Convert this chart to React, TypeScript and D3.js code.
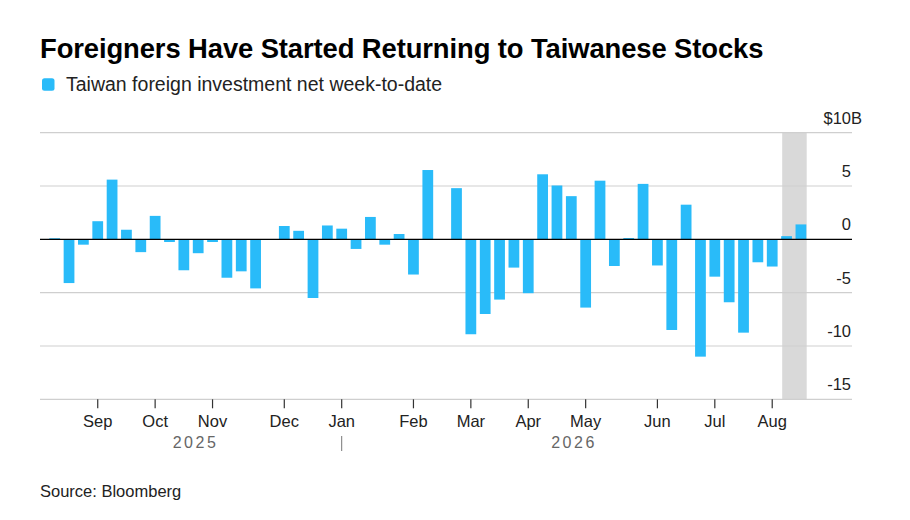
import React from 'react';
import * as d3 from 'd3';

// weekly observations (Saturdays)
const weeks = [
  '2025-08-16', '2025-08-23', '2025-08-30', '2025-09-06', '2025-09-13', '2025-09-20', '2025-09-27',
  '2025-10-04', '2025-10-11', '2025-10-18', '2025-10-25', '2025-11-01', '2025-11-08', '2025-11-15',
  '2025-11-22', '2025-11-29', '2025-12-06', '2025-12-13', '2025-12-20', '2025-12-27', '2026-01-03',
  '2026-01-10', '2026-01-17', '2026-01-24', '2026-01-31', '2026-02-07', '2026-02-14', '2026-02-21',
  '2026-02-28', '2026-03-07', '2026-03-14', '2026-03-21', '2026-03-28', '2026-04-04', '2026-04-11',
  '2026-04-18', '2026-04-25', '2026-05-02', '2026-05-09', '2026-05-16', '2026-05-23', '2026-05-30',
  '2026-06-06', '2026-06-13', '2026-06-20', '2026-06-27', '2026-07-04', '2026-07-11', '2026-07-18',
  '2026-07-25', '2026-08-01', '2026-08-08', '2026-08-15',
];

// net foreign investment, $B
const netFlows: (number | null)[] = [
  0.1, -4.1, -0.5, 1.7, 5.6, 0.9, -1.2,
  2.2, -0.25, -2.9, -1.3, -0.25, -3.6, -3.0,
  -4.6, null, 1.25, 0.8, -5.5, 1.3, 1.0,
  -0.9, 2.1, -0.5, 0.5, -3.3, 6.5, null,
  4.8, -8.9, -7.0, -5.65, -2.65, -5.05, 6.1,
  5.05, 4.05, -6.4, 5.5, -2.5, 0.12, 5.2,
  -2.45, -8.5, 3.25, -11.0, -3.5, -5.9, -8.75,
  -2.15, -2.55, 0.3, 1.4,
];

const yTicks = [10, 5, 0, -5, -10, -15];
const shadedWeeks = ['2026-08-08', '2026-08-15'];
const yearLabels = ['2025', '2026'];

const W = 910;
const H = 520;
const FONT = '"Liberation Sans", Arial, Helvetica, sans-serif';
const BLUE = '#29bbf9';

const gridLeft = 40;
const gridRight = 852;
const bandLeft = 49.3;
const bandRight = 806.3;
const plotTop = 132.7;
const plotBottom = 399.3;

export default function App() {
  const x = d3.scaleBand<string>()
    .domain(weeks)
    .range([bandLeft, bandRight])
    .paddingInner(0.25)
    .paddingOuter(0);

  const y = d3.scaleLinear().domain([-15, 10]).range([plotBottom, plotTop]);

  const parse = d3.timeParse('%Y-%m-%d');
  const fmtMonth = d3.timeFormat('%b');
  // a month tick at the first week of each month
  const monthTicks = weeks.filter((w, i) => i > 0 && parse(w)!.getDate() <= 7);

  const center = (w: string) => (x(w) ?? 0) + x.bandwidth() / 2;
  const janX = center(monthTicks.find(w => w.endsWith('-01-03'))!);
  const shadeX0 = (x(shadedWeeks[0]) ?? 0) + 1;
  const shadeX1 = (x(shadedWeeks[shadedWeeks.length - 1]) ?? 0) + x.bandwidth() + 0.4;

  return (
    <svg
      width={W}
      height={H}
      style={{ position: 'absolute', left: 0, top: 0, background: '#fff', fontFamily: FONT }}
    >
      <text x={40} y={58} fontSize={27.4} fontWeight={700} fill="#000" letterSpacing={-0.1}>
        Foreigners Have Started Returning to Taiwanese Stocks
      </text>

      {/* legend */}
      <rect x={42} y={78.3} width={12.5} height={12.5} rx={2.5} fill={BLUE} />
      <text x={66} y={91} fontSize={19.5} fill="#222">
        Taiwan foreign investment net week-to-date
      </text>

      {/* shaded period */}
      <rect x={shadeX0} y={plotTop} width={shadeX1 - shadeX0} height={plotBottom - plotTop} fill="#d9d9d9" />

      {/* gridlines + y labels */}
      {yTicks.map(t => (
        <g key={t}>
          {t !== 0 && (
            <line x1={gridLeft} x2={gridRight} y1={y(t)} y2={y(t)} stroke="#cfcfcf" strokeWidth={1.2} />
          )}
          {t === 10 ? (
            <>
              <text x={851} y={y(t) - 9} fontSize={16.5} fill="#222" textAnchor="end">$10</text>
              <text x={851} y={y(t) - 9} fontSize={16.5} fill="#222">B</text>
            </>
          ) : (
            <text x={851} y={y(t) - 9} fontSize={16.5} fill="#222" textAnchor="end">{t}</text>
          )}
        </g>
      ))}

      {/* bars */}
      {weeks.map((w, i) => {
        const v = netFlows[i];
        if (v == null) return null;
        const y0 = y(Math.max(0, v));
        const y1 = y(Math.min(0, v));
        return (
          <rect key={w} x={x(w)} y={y0} width={x.bandwidth()} height={Math.max(0.5, y1 - y0)} fill={BLUE} />
        );
      })}

      {/* zero line */}
      <line x1={gridLeft} x2={gridRight} y1={y(0)} y2={y(0)} stroke="#000" strokeWidth={1.2} />

      {/* x axis */}
      {monthTicks.map(w => (
        <g key={w} transform={`translate(${center(w)},0)`}>
          <line y1={plotBottom} y2={plotBottom + 9} stroke="#333" strokeWidth={1.2} />
          <text y={427} fontSize={16.5} fill="#222" textAnchor="middle">{fmtMonth(parse(w)!)}</text>
        </g>
      ))}

      {/* years */}
      <text x={(bandLeft + janX) / 2} y={448} fontSize={16} fill="#666" textAnchor="middle" letterSpacing={2.5}>
        {yearLabels[0]}
      </text>
      <line x1={janX} x2={janX} y1={436} y2={451} stroke="#777" strokeWidth={1} />
      <text x={(janX + bandRight) / 2} y={448} fontSize={16} fill="#666" textAnchor="middle" letterSpacing={2.5}>
        {yearLabels[1]}
      </text>

      <text x={40} y={497} fontSize={16.5} fill="#222">Source: Bloomberg</text>
    </svg>
  );
}
